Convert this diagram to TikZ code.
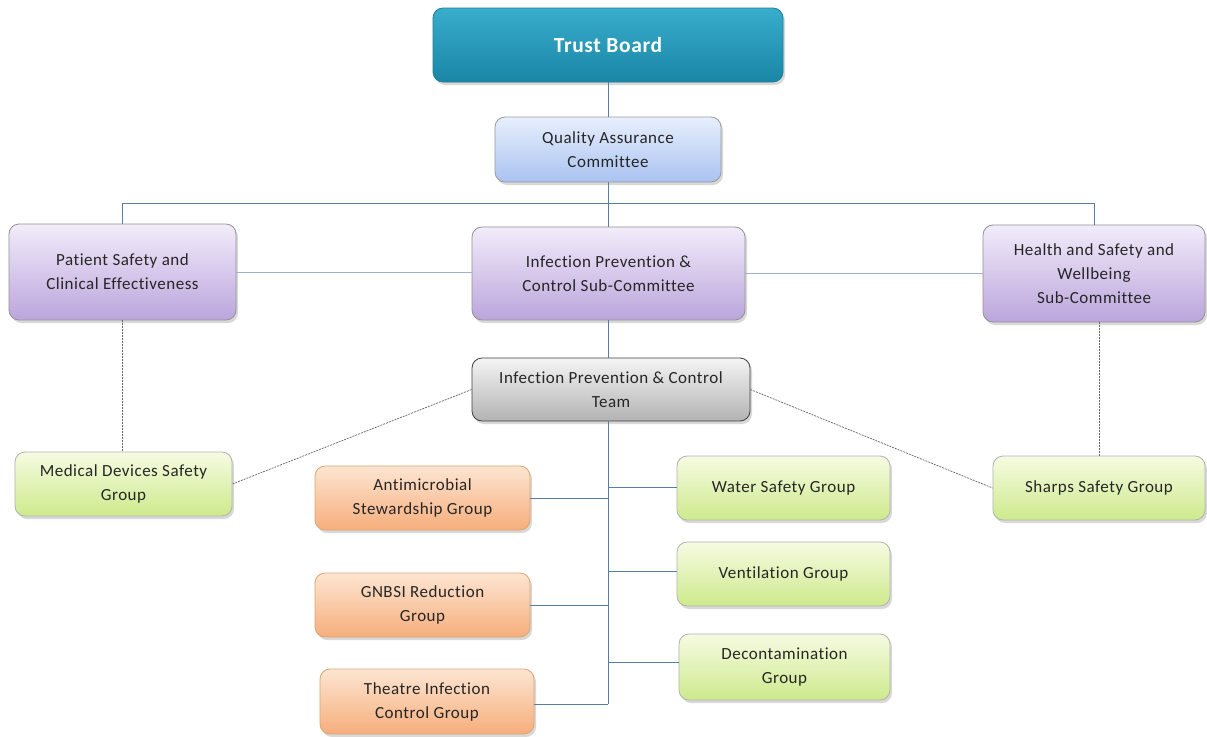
\documentclass[tikz,border=0pt]{standalone}
\usepackage{fontspec}
\setmainfont{Carlito}[LetterSpace=3,Ligatures=NoCommon]
\usetikzlibrary{shadows}
\definecolor{tbtop}{HTML}{38ADCB}
\definecolor{tbbot}{HTML}{1A86A6}
\definecolor{tbline}{HTML}{1F7F99}
\definecolor{qatop}{HTML}{E8EFFD}
\definecolor{qabot}{HTML}{A9C3F1}
\definecolor{putop}{HTML}{F2ECFA}
\definecolor{pubot}{HTML}{BBA5DC}
\definecolor{grtop}{HTML}{F4F4F4}
\definecolor{grbot}{HTML}{B3B3B3}
\definecolor{gntop}{HTML}{F6FBE2}
\definecolor{gnbot}{HTML}{CDEA8C}
\definecolor{ortop}{HTML}{FDE5D2}
\definecolor{orbot}{HTML}{F6AE7C}
\definecolor{conn}{HTML}{5A7DA6}
\definecolor{txt}{HTML}{262626}
\tikzset{
  box/.style={rectangle, rounded corners=10pt, align=center, font=\fontsize{17}{24}\selectfont, text=txt,
    drop shadow={opacity=0.3, shadow xshift=2pt, shadow yshift=-3pt}, line width=0.8pt, inner sep=2pt},
  tb/.style={box, top color=tbtop, bottom color=tbbot, draw=tbline, text=white, font=\fontsize{21.5}{24}\selectfont\bfseries},
  qa/.style={box, top color=qatop, bottom color=qabot, draw=gray!80},
  pu/.style={box, top color=putop, bottom color=pubot, draw=gray!85},
  gr/.style={box, top color=grtop, bottom color=grbot, draw=black!75},
  gn/.style={box, top color=gntop, bottom color=gnbot, draw=gray!60},
  orr/.style={box, top color=ortop, bottom color=orbot, draw=orange!60!gray!70},
  link/.style={draw=conn, line width=1pt},
  dlink/.style={draw=black!60, line width=0.7pt, dash pattern=on 2pt off 1pt},
}
\begin{document}
\begin{tikzpicture}[x=1pt,y=-1pt]
\useasboundingbox (0,0) rectangle (1207,736);
\fill[white] (0,0) rectangle (1207,736);

\node[tb, minimum width=350pt, minimum height=74pt] (TB) at (608,45) {Trust Board};
\node[qa, minimum width=226pt, minimum height=65pt] (QA) at (608,149.5) {Quality Assurance\\Committee};
\node[pu, minimum width=227pt, minimum height=96pt] (PS) at (122.5,272) {Patient Safety and\\Clinical Effectiveness};
\node[pu, minimum width=273pt, minimum height=93pt] (IPCS) at (608.5,273.5) {Infection Prevention \&\\Control Sub-Committee};
\node[pu, minimum width=222pt, minimum height=97pt] (HS) at (1094,273.5) {Health and Safety and\\Wellbeing\\Sub-Committee};
\node[gr, minimum width=278pt, minimum height=63pt] (IPCT) at (611,389.5) {Infection Prevention \& Control\\Team};
\node[gn, minimum width=217pt, minimum height=64pt] (MD) at (123.5,484) {Medical Devices Safety\\Group};
\node[gn, minimum width=212pt, minimum height=64pt] (SH) at (1099,488) {Sharps Safety Group};
\node[orr, minimum width=215pt, minimum height=64pt] (AM) at (422.5,498) {Antimicrobial\\Stewardship Group};
\node[gn, minimum width=213pt, minimum height=64pt] (WS) at (783.5,488) {Water Safety Group};
\node[gn, minimum width=213pt, minimum height=64pt] (VG) at (783.5,574) {Ventilation Group};
\node[orr, minimum width=215pt, minimum height=64pt] (GN) at (422.5,605) {GNBSI Reduction\\Group};
\node[gn, minimum width=211pt, minimum height=66pt] (DC) at (784.5,667) {Decontamination\\Group};
\node[orr, minimum width=214pt, minimum height=65pt] (TH) at (427,701.5) {Theatre Infection\\Control Group};

\coordinate (bus) at (608,203);
\coordinate (spine) at (608,704);

\path[link] (TB.south) -- (QA.south |- TB.south) -- (QA.north);
\path[link] (QA.south) -- (IPCS.north -| QA.south);
\path[link] (PS.north) -- (PS.north |- bus) -- (HS.north |- bus) -- (HS.north);
\path[link, draw=conn!60] (PS.east) -- (PS.east -| IPCS.west);
\path[link, draw=conn!60] (IPCS.east) -- (IPCS.east -| HS.west);
\path[link] (IPCS.south -| bus) -- (IPCT.north -| bus);
\path[link] (IPCT.south -| bus) -- (spine);
\path[link] (AM.east) -- (AM.east -| spine);
\path[link] (WS.west |- 0,487) -- (spine |- 0,487);
\path[link] (VG.west |- 0,571) -- (spine |- 0,571);
\path[link] (GN.east) -- (GN.east -| spine);
\path[link] (DC.west |- 0,662) -- (spine |- 0,662);
\path[link] (TH.east |- spine) -- (spine);
\path[dlink] (PS.south) -- (PS.south |- MD.north);
\path[dlink] (HS.south -| SH.north) -- (SH.north);
\path[dlink] (IPCT.west) -- (MD.east);
\path[dlink] (IPCT.east) -- (SH.west);
\end{tikzpicture}
\end{document}
